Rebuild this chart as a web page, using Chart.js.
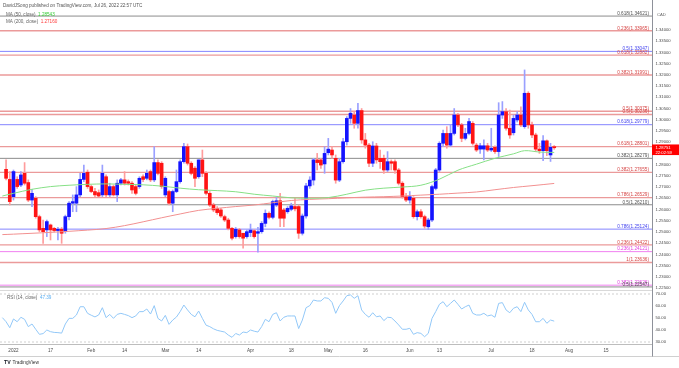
<!DOCTYPE html>
<html><head><meta charset="utf-8">
<script src="https://cdn.jsdelivr.net/npm/chart.js@4.4.1/dist/chart.umd.min.js"></script>
<style>
html,body{margin:0;padding:0;background:#fff;}
#wrap{position:relative;width:679px;height:368px;overflow:hidden;background:#fff;}
canvas{position:absolute;left:0;}
</style></head><body>
<div id="wrap">
<canvas id="main" width="679" height="290" style="top:0"></canvas>
<canvas id="rsi" width="679" height="78" style="top:290px"></canvas>
</div>
<script>
// ---------------- DATA ----------------
const firstCandle = -2; // trading-day index of first candle (Jan 3 2022 = 0)
const opens = [1.2779,1.2734,1.2657,1.2734,1.2709,1.2761,1.2720,1.2642,1.2650,1.2568,
1.2516,1.2509,1.2531,1.2516,1.2506,1.2512,1.2501,1.2568,1.2628,1.2628,
1.2665,1.2734,1.2766,1.2702,1.2680,1.2675,1.2665,1.2746,1.2665,1.2702,
1.2665,1.2717,1.2732,1.2724,1.2717,1.2702,1.2702,1.2746,1.2739,1.2769,
1.2732,1.2809,1.2806,1.2665,1.2680,1.2628,1.2680,1.2724,1.2813,1.2880,
1.2806,1.2784,1.2746,1.2821,1.2761,1.2672,1.2620,1.2605,1.2598,1.2568,
1.2553,1.2516,1.2479,1.2509,1.2494,1.2479,1.2497,1.2505,1.2494,1.2501,
1.2538,1.2583,1.2565,1.2620,1.2639,1.2598,1.2590,1.2601,1.2613,1.2613,
1.2494,1.2571,1.2705,1.2731,1.2821,1.2821,1.2803,1.2853,1.2865,1.2828,
1.2731,1.2813,1.2902,1.3006,1.3021,1.2984,1.3041,1.2910,1.2887,1.2806,
1.2883,1.2828,1.2828,1.2776,1.2813,1.2813,1.2776,1.2717,1.2657,1.2642,
1.2650,1.2568,1.2590,1.2568,1.2523,1.2553,1.2694,1.2776,1.2895,1.2939,
1.2887,1.2939,1.3021,1.2977,1.2917,1.2939,1.2984,1.2887,1.2869,1.2869,
1.2884,1.2865,1.2877,1.2858,1.3021,1.3036,1.2962,1.2942,1.2999,1.3021,
1.2969,1.3118,1.2977,1.2932,1.2869,1.2862,1.2906,1.2843,1.2880];
const highs = [1.2821,1.2769,1.2776,1.2746,1.2769,1.2809,1.2732,1.2690,1.2657,1.2575,
1.2553,1.2553,1.2535,1.2520,1.2520,1.2520,1.2575,1.2635,1.2665,1.2702,
1.2761,1.2798,1.2776,1.2709,1.2694,1.2687,1.2798,1.2754,1.2717,1.2709,
1.2732,1.2739,1.2769,1.2732,1.2724,1.2709,1.2746,1.2754,1.2776,1.2776,
1.2880,1.2821,1.2813,1.2746,1.2687,1.2687,1.2776,1.2821,1.2895,1.2892,
1.2813,1.2791,1.2821,1.2865,1.2769,1.2680,1.2628,1.2613,1.2605,1.2575,
1.2561,1.2520,1.2520,1.2516,1.2494,1.2509,1.2535,1.2510,1.2520,1.2546,
1.2598,1.2590,1.2642,1.2654,1.2672,1.2605,1.2613,1.2628,1.2650,1.2620,
1.2580,1.2717,1.2746,1.2828,1.2850,1.2828,1.2880,1.2917,1.2880,1.2843,
1.2828,1.2917,1.3014,1.3050,1.3035,1.3073,1.3050,1.2939,1.2895,1.2902,
1.2895,1.2865,1.2843,1.2858,1.2821,1.2821,1.2783,1.2724,1.2672,1.2680,
1.2657,1.2598,1.2600,1.2575,1.2561,1.2709,1.2783,1.2902,1.2954,1.2969,
1.2977,1.3050,1.3029,1.2984,1.2962,1.3006,1.2992,1.2895,1.2895,1.2910,
1.2895,1.2962,1.2884,1.3076,1.3081,1.3050,1.3043,1.3021,1.3036,1.3058,
1.3222,1.3125,1.2990,1.2940,1.2895,1.2929,1.2910,1.2895,1.2885];
const lows = [1.2732,1.2620,1.2642,1.2694,1.2702,1.2709,1.2635,1.2613,1.2561,1.2501,
1.2449,1.2479,1.2464,1.2500,1.2464,1.2449,1.2494,1.2553,1.2590,1.2590,
1.2657,1.2724,1.2694,1.2675,1.2657,1.2657,1.2657,1.2657,1.2657,1.2660,
1.2635,1.2709,1.2709,1.2709,1.2672,1.2665,1.2694,1.2724,1.2732,1.2724,
1.2724,1.2754,1.2694,1.2657,1.2620,1.2590,1.2675,1.2717,1.2806,1.2798,
1.2754,1.2702,1.2739,1.2746,1.2665,1.2613,1.2590,1.2578,1.2565,1.2546,
1.2509,1.2464,1.2472,1.2472,1.2427,1.2472,1.2479,1.2472,1.2410,1.2494,
1.2523,1.2558,1.2558,1.2613,1.2523,1.2523,1.2583,1.2594,1.2594,1.2471,
1.2486,1.2561,1.2694,1.2709,1.2776,1.2783,1.2761,1.2843,1.2828,1.2717,
1.2724,1.2806,1.2887,1.2984,1.2962,1.2962,1.2895,1.2873,1.2791,1.2791,
1.2806,1.2783,1.2761,1.2769,1.2776,1.2761,1.2709,1.2650,1.2635,1.2628,
1.2561,1.2553,1.2561,1.2516,1.2510,1.2546,1.2687,1.2769,1.2880,1.2873,
1.2880,1.2932,1.2969,1.2902,1.2910,1.2932,1.2887,1.2858,1.2850,1.2821,
1.2858,1.2858,1.2850,1.2836,1.3006,1.2954,1.2917,1.2932,1.2990,1.2969,
1.2962,1.2962,1.2920,1.2858,1.2850,1.2817,1.2840,1.2814,1.2868];
const closes = [1.2739,1.2635,1.2769,1.2702,1.2754,1.2717,1.2642,1.2672,1.2568,1.2509,
1.2501,1.2546,1.2509,1.2506,1.2512,1.2494,1.2568,1.2628,1.2635,1.2665,
1.2734,1.2761,1.2702,1.2680,1.2665,1.2660,1.2761,1.2665,1.2702,1.2665,
1.2717,1.2732,1.2717,1.2717,1.2687,1.2672,1.2739,1.2734,1.2761,1.2732,
1.2809,1.2761,1.2702,1.2739,1.2628,1.2680,1.2724,1.2813,1.2880,1.2806,
1.2761,1.2739,1.2821,1.2761,1.2672,1.2620,1.2598,1.2586,1.2571,1.2553,
1.2516,1.2472,1.2512,1.2479,1.2472,1.2501,1.2508,1.2479,1.2501,1.2538,
1.2583,1.2565,1.2635,1.2639,1.2561,1.2561,1.2605,1.2616,1.2603,1.2494,
1.2571,1.2705,1.2731,1.2821,1.2809,1.2798,1.2850,1.2869,1.2843,1.2731,
1.2813,1.2902,1.3006,1.3029,1.2984,1.3041,1.2910,1.2887,1.2806,1.2883,
1.2821,1.2813,1.2776,1.2813,1.2806,1.2776,1.2717,1.2657,1.2642,1.2657,
1.2568,1.2590,1.2568,1.2526,1.2553,1.2702,1.2776,1.2895,1.2939,1.2887,
1.2939,1.3021,1.2977,1.2917,1.2939,1.2992,1.2895,1.2865,1.2884,1.2884,
1.2865,1.2873,1.2858,1.3021,1.3036,1.2962,1.2932,1.3006,1.3021,1.2977,
1.3118,1.2977,1.2932,1.2869,1.2862,1.2906,1.2862,1.2877,1.28751];

const ma50Idx = [-3,0,5,10,15,20,25,30,35,40,45,50,55,60,65,70,75,80,85,90,95,100,105,110,115,120,125,130,135,138,142,146];
const ma50Val = [1.2660,1.2672,1.2690,1.2702,1.2708,1.2712,1.2714,1.2712,1.2710,1.2704,1.2695,1.2688,1.2684,1.2679,1.2668,1.2660,1.2652,1.2650,1.2653,1.2668,1.2686,1.2695,1.2700,1.2708,1.2735,1.2775,1.2802,1.2828,1.2848,1.2862,1.2856,1.28543];
const ma200Idx = [-3,0,10,20,25,30,35,40,45,50,55,60,65,70,75,80,85,90,95,100,105,110,115,120,125,130,135,140,146];
const ma200Val = [1.2488,1.2490,1.2498,1.2508,1.2515,1.2528,1.2545,1.2563,1.2580,1.2596,1.2605,1.2613,1.2620,1.2630,1.2640,1.2645,1.2648,1.2652,1.2655,1.2657,1.2660,1.2664,1.2668,1.2673,1.2678,1.2688,1.2698,1.2706,1.27160];

const rsiFirst = -3;
const rsiVal = [50.3,46.9,41.9,49.2,46.9,50.6,48.9,42.8,45.0,40.6,
36.4,37.0,40.0,38.6,38.0,37.8,37.4,45.0,49.7,49.7,
52.5,59.4,59.4,53.9,52.3,50.9,52.5,58.6,50.3,53.0,
49.7,53.0,53.9,53.0,52.0,50.3,51.7,55.3,55.3,57.5,
53.3,60.3,49.7,47.5,52.2,44.7,48.3,50.8,55.3,60.8,
56.7,53.0,51.0,55.8,49.7,44.0,42.8,41.0,39.7,39.0,
38.3,35.8,33.9,37.1,35.8,38.3,37.8,40.0,39.0,38.3,
42.8,48.9,46.9,53.0,54.4,47.5,50.6,51.7,51.7,51.7,
41.2,48.3,58.6,60.3,65.0,64.2,64.2,66.9,66.4,63.0,
53.9,60.3,64.2,68.6,69.2,66.4,68.6,56.7,53.0,50.6,
54.4,51.0,51.7,47.8,50.6,50.3,47.5,44.2,40.6,40.6,
41.4,36.4,37.8,37.2,34.4,37.2,49.7,55.3,61.4,63.6,
59.4,62.2,65.0,61.4,57.5,59.4,60.8,53.9,52.5,52.5,
53.9,51.7,52.5,50.6,62.2,62.8,56.7,54.4,58.1,59.4,
55.3,63.1,56.7,53.0,46.9,46.9,49.7,45.6,48.3,47.39];
const rsiBands = [70, 30];

const fibRatios = ['0.618','0.236','0.5','0.618','0.382','0.5','0.5','0.618','0.618','0.382','0.382','0.786','0.5','0.786','0.236','0.236','1','0.382','0.5'];
const fibValues = [1.34621,1.33965,1.33047,1.32882,1.31991,1.30375,1.30236,1.29779,1.28801,1.28279,1.27655,1.26529,1.26210,1.25124,1.24422,1.24121,1.23636,1.22626,1.22547];
const fibSets = ['gray','red','blue','red','red','red','red','blue','red','gray','red','red','gray','blue','red','magenta','red','magenta','gray'];

const priceTicks = [1.225,1.23,1.235,1.24,1.245,1.25,1.255,1.26,1.265,1.27,1.275,1.28,1.285,1.29,1.295,1.30,1.305,1.31,1.315,1.32,1.325,1.33,1.335,1.34];
const rsiTicks = [30,40,50,60,70];
const timeTickIdx = [0,10,21,30,41,50,64,75,85,95,107,115,129,140,150,160];
const timeTickLabels = ['2022','17','Feb','14','Mar','14','Apr','18','May','16','Jun','13','Jul','18','Aug','15'];

// ---------------- STYLE ----------------
const FONT = '"Liberation Sans", Arial, sans-serif';
const X_MIN = -3.64, X_MAX = 172.4;
const P_MIN = 1.224107, P_MAX = 1.353372;
const R_MIN = 28.333, R_MAX = 73.333;
const UP = '#1414ff', DOWN = '#ff1414', UPW = '#9aa0ff', DOWNW = '#ff9c9c';
const fibLine = {red:'#eb9a9a', blue:'#8484ff', gray:'#8c8c8c', magenta:'#f080f0'};
const fibText = {red:'#d64545', blue:'#4444ee', gray:'#505050', magenta:'#e040e0'};
const AXIS_W = 27;

const bodyData = opens.map((o,i)=>({x:firstCandle+i, y:[o, closes[i]]}));
const wickData = opens.map((o,i)=>({x:firstCandle+i, y:[lows[i], highs[i]]}));
const bodyCol = opens.map((o,i)=> closes[i] >= o ? UP : DOWN);
const wickCol = opens.map((o,i)=> closes[i] >= o ? UPW : DOWNW);

const fibDatasets = fibValues.map((v,i)=>({
  type:'line', data:[{x:X_MIN,y:v},{x:X_MAX,y:v}], borderColor: fibLine[fibSets[i]],
  borderWidth: fibSets[i]==='red' ? 1.4 : 1, pointRadius:0, order:20
}));

const mainDecor = {
  id:'mainDecor',
  afterDatasetsDraw(chart){
    const {ctx, chartArea, scales:{y}} = chart;
    ctx.save();
    ctx.font = '4.7px ' + FONT;
    ctx.textAlign = 'right'; ctx.textBaseline = 'alphabetic';
    fibValues.forEach((v,i)=>{
      const py = y.getPixelForValue(v);
      ctx.fillStyle = fibText[fibSets[i]];
      ctx.fillText(fibRatios[i] + '(' + v.toFixed(5) + ')', chartArea.right - 3, py - 1.2);
    });
    ctx.restore();
  },
  afterDraw(chart){
    const {ctx, chartArea, scales:{y}} = chart;
    ctx.save();
    ctx.textBaseline = 'middle'; ctx.textAlign = 'left';
    ctx.font = '4.6px ' + FONT;
    ctx.fillStyle = '#555';
    ctx.fillText('DavidJSong published on TradingView.com, Jul 26, 2022 22:57 UTC', 3, 5.5);
    const legend = (txt, val, col, yy) => {
      ctx.fillStyle = '#666'; ctx.fillText(txt, 6, yy);
      const w = ctx.measureText(txt).width;
      ctx.fillStyle = col; ctx.fillText(val, 6 + w + 2.5, yy);
    };
    legend('MA (50, close)', ma50Val[ma50Val.length-1].toFixed(5), '#33cc33', 14.5);
    legend('MA (200, close)', ma200Val[ma200Val.length-1].toFixed(5), '#ff3b3b', 21.5);
    ctx.font = '4.2px ' + FONT; ctx.fillStyle = '#666';
    ctx.fillText('CAD', chartArea.right + 5, 15);
    const last = closes[closes.length-1];
    const py = y.getPixelForValue(last);
    ctx.fillStyle = last >= opens[opens.length-1] ? UP : '#ff0000';
    ctx.fillRect(chartArea.right, py - 3.3, AXIS_W, 10.6);
    ctx.fillStyle = '#fff';
    ctx.fillText(last.toFixed(5), chartArea.right + 3.5, py);
    ctx.fillText('22:02:59', chartArea.right + 3.5, py + 4.8);
    ctx.restore();
  }
};

new Chart(document.getElementById('main'), {
  type:'bar',
  data:{ datasets:[
    {type:'bar', data: bodyData, backgroundColor: bodyCol, barThickness: 3, grouped:false, minBarLength:1, order:2},
    {type:'bar', data: wickData, backgroundColor: wickCol, barThickness: 1, grouped:false, order:3},
    {type:'line', data: ma50Idx.map((x,i)=>({x, y:ma50Val[i]})), borderColor:'#86e086', borderWidth:1, pointRadius:0, tension:0.35, order:1},
    {type:'line', data: ma200Idx.map((x,i)=>({x, y:ma200Val[i]})), borderColor:'#f29090', borderWidth:1, pointRadius:0, tension:0.35, order:1},
    ...fibDatasets
  ]},
  options:{
    responsive:false, animation:false, devicePixelRatio:1, events:[],
    layout:{padding:0},
    plugins:{legend:{display:false}, tooltip:{enabled:false}},
    scales:{
      x:{type:'linear', min:X_MIN, max:X_MAX, offset:false, display:false},
      y:{type:'linear', position:'right', min:P_MIN, max:P_MAX,
         grid:{display:false, drawTicks:false},
         border:{display:true, color:'#8e919a', width:1},
         afterBuildTicks(s){ s.ticks = priceTicks.map(v=>({value:v})); },
         afterFit(s){ s.width = AXIS_W; s.paddingTop = 0; s.paddingBottom = 0; },
         ticks:{autoSkip:false, padding:3.5, color:'#4a4a4a', font:{size:4.2, family:FONT},
                callback:(v)=> Number(v).toFixed(5)}}
    }
  },
  plugins:[mainDecor]
});

const rsiDecor = {
  id:'rsiDecor',
  afterDraw(chart){
    const {ctx, chartArea} = chart;
    ctx.save();
    ctx.strokeStyle = '#d9d9d9'; ctx.lineWidth = 1;
    ctx.beginPath(); ctx.moveTo(0,0.5); ctx.lineTo(chartArea.right,0.5); ctx.stroke();
    ctx.strokeStyle = '#d0d0d0';
    ctx.beginPath(); ctx.moveTo(0,66.5); ctx.lineTo(679,66.5); ctx.stroke();
    ctx.strokeStyle = '#8e919a';
    ctx.beginPath(); ctx.moveTo(chartArea.right+0.5, chartArea.bottom); ctx.lineTo(chartArea.right+0.5, 66.5); ctx.stroke();
    ctx.textBaseline = 'middle'; ctx.textAlign = 'left';
    ctx.font = '4.6px ' + FONT;
    ctx.fillStyle = '#666';
    const t = 'RSI (14, close)';
    ctx.fillText(t, 7, 7.5);
    ctx.fillStyle = '#5aaef2';
    ctx.fillText(rsiVal[rsiVal.length-1].toFixed(2), 7 + ctx.measureText(t).width + 2.5, 7.5);
    ctx.fillStyle = '#131722';
    ctx.font = 'bold 5.2px ' + FONT;
    ctx.fillText('TV', 4, 72.5);
    ctx.font = '4.8px ' + FONT;
    ctx.fillStyle = '#333';
    ctx.fillText('TradingView', 12.5, 72.5);
    ctx.restore();
  }
};

new Chart(document.getElementById('rsi'), {
  type:'line',
  data:{ datasets:[
    {data: rsiVal.map((v,i)=>({x:rsiFirst+i, y:v})), borderColor:'#92c8f8', borderWidth:1, pointRadius:0, tension:0, order:1},
    ...rsiBands.map(b=>({data:[{x:X_MIN,y:b},{x:X_MAX,y:b}], borderColor:'#cfcfcf', borderWidth:1, borderDash:[2,2], pointRadius:0, order:2}))
  ]},
  options:{
    responsive:false, animation:false, devicePixelRatio:1, events:[],
    layout:{padding:0},
    plugins:{legend:{display:false}, tooltip:{enabled:false}},
    scales:{
      x:{type:'linear', min:X_MIN, max:X_MAX, offset:false, position:'bottom',
         grid:{display:false, drawTicks:false},
         border:{display:true, color:'#bdbdbd', width:1},
         afterBuildTicks(s){ s.ticks = timeTickIdx.map(v=>({value:v})); },
         afterFit(s){ s.height = 24; s.paddingLeft = 0; s.paddingRight = 0; },
         ticks:{autoSkip:false, maxRotation:0, padding:4, color:'#4a4a4a', font:{size:4.6, family:FONT},
                callback:(v)=> timeTickLabels[timeTickIdx.indexOf(v)]}},
      y:{type:'linear', position:'right', min:R_MIN, max:R_MAX,
         grid:{display:false, drawTicks:false},
         border:{display:true, color:'#8e919a', width:1},
         afterBuildTicks(s){ s.ticks = rsiTicks.map(v=>({value:v})); },
         afterFit(s){ s.width = AXIS_W; s.paddingTop = 0; s.paddingBottom = 0; },
         ticks:{autoSkip:false, padding:3.5, color:'#4a4a4a', font:{size:4.2, family:FONT},
                callback:(v)=> Number(v).toFixed(2)}}
    }
  },
  plugins:[rsiDecor]
});
</script>
</body></html>
